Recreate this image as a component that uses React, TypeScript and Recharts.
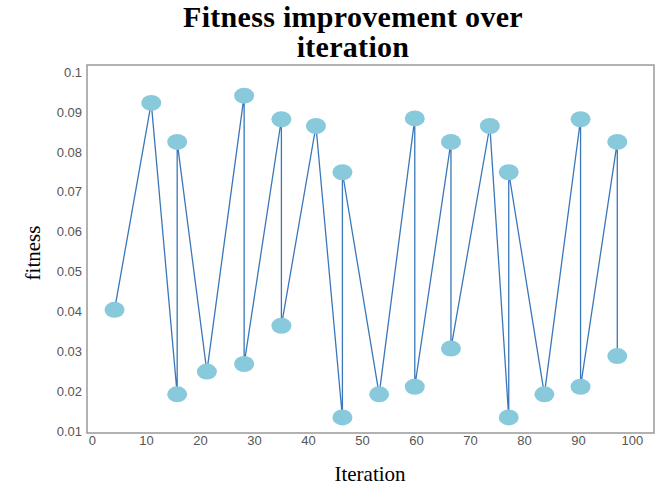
import React from "react";
import {
  LineChart,
  Line,
  XAxis,
  YAxis,
  ReferenceArea,
} from "recharts";

// values, in drawing order
const iterations = [
  4.1, 10.9, 15.7, 15.7, 21.2, 28.1, 28.1, 35, 35, 41.4, 46.3, 46.3, 53.1,
  59.7, 59.7, 66.4, 66.4, 73.6, 77.1, 77.1, 83.7, 90.4, 90.4, 97.2, 97.2,
];
const fitness = [
  0.0404, 0.0923, 0.0192, 0.0825, 0.0249, 0.0941, 0.0268, 0.0882, 0.0364,
  0.0865, 0.0134, 0.0749, 0.0192, 0.0884, 0.0211, 0.0825, 0.0307, 0.0865,
  0.0134, 0.0749, 0.0192, 0.0882, 0.0211, 0.0825, 0.0288,
];
const xTicks = [0, 10, 20, 30, 40, 50, 60, 70, 80, 90, 100];
const yTicks = [0.01, 0.02, 0.03, 0.04, 0.05, 0.06, 0.07, 0.08, 0.09, 0.1];

const data = iterations.map((it, i) => ({ iteration: it, fitness: fitness[i] }));

const X_DOMAIN: [number, number] = [-1, 104];
const Y_DOMAIN: [number, number] = [0.0095, 0.1018];

const tickStyle = { fontFamily: "'Liberation Sans', Arial, sans-serif", fontSize: 13, fill: "#555" };

const Blob = (props: any) => {
  const { cx, cy, index } = props;
  if (cx == null || cy == null) return null;
  return <ellipse key={index} cx={cx} cy={cy} rx={10} ry={8} fill="#89c9dc" />;
};

export default function App() {
  return (
    <div
      style={{
        position: "absolute",
        left: 0,
        top: 0,
        width: 660,
        height: 489,
        background: "#fff",
        fontFamily: "'Liberation Serif', 'Times New Roman', serif",
      }}
    >
      <div
        style={{
          position: "absolute",
          left: 0,
          width: 706,
          top: 2,
          textAlign: "center",
          fontWeight: "bold",
          fontSize: 30,
          lineHeight: "30px",
          letterSpacing: 0.3,
          color: "#000",
        }}
      >
        Fitness improvement over
        <br />
        iteration
      </div>
      <div
        style={{
          position: "absolute",
          left: 33,
          top: 253,
          transform: "translate(-50%, -50%) rotate(-90deg)",
          fontSize: 21,
          whiteSpace: "nowrap",
        }}
      >
        fitness
      </div>
      <div
        style={{
          position: "absolute",
          left: 370,
          top: 474,
          transform: "translate(-50%, -50%)",
          fontSize: 21,
        }}
      >
        Iteration
      </div>
      <LineChart
        width={660}
        height={489}
        data={data}
        margin={{ top: 65, right: 6, bottom: 26, left: 27 }}
      >
        <ReferenceArea
          x1={X_DOMAIN[0]}
          x2={X_DOMAIN[1]}
          y1={Y_DOMAIN[0]}
          y2={Y_DOMAIN[1]}
          fill="none"
          stroke="#999"
          strokeWidth={1.5}
        />
        <XAxis
          type="number"
          dataKey="iteration"
          domain={X_DOMAIN}
          ticks={xTicks}
          allowDataOverflow
          height={30}
          axisLine={false}
          tickLine={false}
          tickSize={0}
          tickMargin={3}
          tick={tickStyle}
        />
        <YAxis
          type="number"
          dataKey="fitness"
          domain={Y_DOMAIN}
          ticks={yTicks}
          allowDataOverflow
          width={60}
          axisLine={false}
          tickLine={false}
          tickSize={0}
          tickMargin={5}
          tick={tickStyle}
          tickFormatter={(v: number) => String(Number(v.toFixed(2)))}
        />
        <Line
          type="linear"
          dataKey="fitness"
          stroke="#3a77ba"
          strokeWidth={1.3}
          dot={<Blob />}
          activeDot={false}
          isAnimationActive={false}
        />
      </LineChart>
    </div>
  );
}
